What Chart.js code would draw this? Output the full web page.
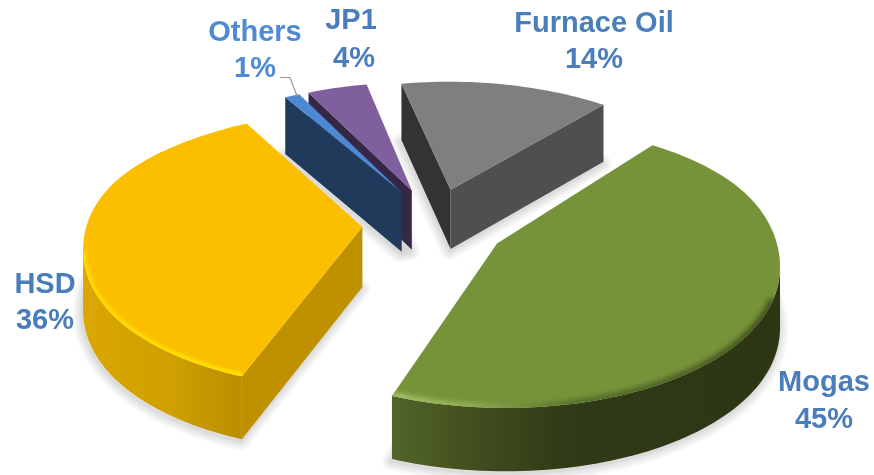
<!DOCTYPE html>
<html>
<head>
<meta charset="utf-8">
<style>html,body{margin:0;background:#fff}canvas{display:block}</style>
<script src="https://cdn.jsdelivr.net/npm/chart.js@4/dist/chart.umd.js"></script>
</head>
<body>
<canvas id="c" width="874" height="475"></canvas>
<script>
// Fuel mix, share of total in percent
const fuels = ['Mogas', 'HSD', 'Others', 'JP1', 'Furnace Oil'];
const shares = [45, 36, 1, 4, 14];
const firstSliceRotation = 39;

// Tilted-disc projection, relative to the arc element's centre and radius
const VIEW = { dx: -3, dy: -7.5, rx: 1.16, ry: 0.573, persp: 0.12, dish: 7, depth: 60, explode: 0.26 };

const STYLES = {
  'Mogas': { top: '#77933a', wall: [[390, '#52652a'], [470, '#434f1e'], [570, '#2f3a17'], [790, '#2c3615']],
             rim: [[390, '#a9c56e'], [470, '#8fae52'], [570, '#55702a'], [780, '#3f5019']], rimRange: [20, 112], rimWidth: 8, rimBlur: 2.5 },
  'HSD': { top: '#fbbf00', startWall: '#bf9100', wall: [[83, '#dba600'], [170, '#cfa000'], [243, '#bb8d00']],
           rim: [[83, '#ffd800'], [243, '#ffe400']], rimRange: [110, 172], rimWidth: 7, rimBlur: 1.5 },
  'Others': { top: '#4d88d2', startWall: '#1f3a5b', wall: [[0, '#1f3a5b']] },
  'JP1': { top: '#7f5f9e', startWall: '#352745', wall: [[0, '#352745']] },
  'Furnace Oil': { top: '#7f7f7f', startWall: '#333333', endWall: '#4f4f4f', wall: [[0, '#4f4f4f']] }
};

const LABEL_FONT = 'bold 29px "Liberation Sans", Arial, sans-serif';
const LABELS = {
  'Mogas': { x: 824, y: 383, color: '#4a7ebb', gap: 37 },
  'HSD': { x: 45, y: 285, color: '#4a7ebb', gap: 36 },
  'Others': { x: 255, y: 33, color: '#4f8ad4', gap: 36 },
  'JP1': { x: 351, y: 21, color: '#4a7ebb', gap: 38 },
  'Furnace Oil': { x: 594, y: 24, color: '#4a7ebb', gap: 36 }
};
const othersLeader = [[280, 77.5], [290, 77.5], [297, 96]];
const SHADOW_WIDTHS = [18, 14, 10, 6, 3];

function gradientOf(ctx, stops) {
  if (stops.length === 1) return stops[0][1];
  const g = ctx.createLinearGradient(stops[0][0], 0, stops[stops.length - 1][0], 0);
  const span = stops[stops.length - 1][0] - stops[0][0];
  stops.forEach(([x, c]) => g.addColorStop((x - stops[0][0]) / span, c));
  return g;
}

class Arc3D extends Chart.ArcElement {
  static id = 'arc3d';

  project(u, v, lift) {
    const r = this.outerRadius, s = 1 / (1 - VIEW.persp * v);
    return {
      x: this.x + VIEW.dx + u * r * VIEW.rx * s,
      y: this.y + VIEW.dy + v * r * VIEW.ry * s
         - VIEW.dish * Math.exp(-Math.pow(v + 0.2, 2) / 0.25)
         + lift * VIEW.depth * (1 + 0.05 * v)
    };
  }

  rimPoint(deg, lift) {
    const mid = (this.startAngle + this.endAngle) / 2, a = deg * Math.PI / 180;
    return this.project(VIEW.explode * Math.cos(mid) + Math.cos(a), VIEW.explode * Math.sin(mid) + Math.sin(a), lift);
  }

  apex(lift) {
    const mid = (this.startAngle + this.endAngle) / 2;
    return this.project(VIEW.explode * Math.cos(mid), VIEW.explode * Math.sin(mid), lift);
  }

  arcDegrees() {
    const from = this.startAngle * 180 / Math.PI, to = this.endAngle * 180 / Math.PI;
    const list = [];
    const steps = Math.max(4, Math.ceil((to - from) / 1.5));
    for (let i = 0; i <= steps; i++) list.push(from + (to - from) * i / steps);
    return list;
  }

  tracePoly(ctx, pts) {
    ctx.beginPath();
    pts.forEach((p, i) => (i ? ctx.lineTo(p.x, p.y) : ctx.moveTo(p.x, p.y)));
    ctx.closePath();
  }

  fillPoly(ctx, pts, fill) {
    this.tracePoly(ctx, pts);
    ctx.fillStyle = fill;
    ctx.fill();
  }

  drawCut(ctx, a, b, fill) {
    if (b.x >= a.x) return;
    this.fillPoly(ctx, [a, b, b.low, a.low], fill);
  }

  draw(ctx) {
    const st = this.sliceStyle;
    const degs = this.arcDegrees();
    const top = degs.map(d => this.rimPoint(d, 0));
    const low = degs.map(d => this.rimPoint(d, 1));
    const apexTop = this.apex(0), apexLow = this.apex(1);

    ctx.save();
    // soft contact shadow, built up from widening translucent outlines
    ctx.save();
    ctx.lineJoin = 'round';
    ctx.strokeStyle = 'rgba(0,0,0,0.032)';
    this.tracePoly(ctx, [apexLow, ...low].map(p => ({ x: p.x - 1, y: p.y + 2 })));
    SHADOW_WIDTHS.forEach(w => {
      ctx.lineWidth = w;
      ctx.stroke();
    });
    ctx.restore();

    // straight cut faces
    const A = { x: apexTop.x, y: apexTop.y, low: apexLow };
    const S = { x: top[0].x, y: top[0].y, low: low[0] };
    const E = { x: top[top.length - 1].x, y: top[top.length - 1].y, low: low[low.length - 1] };
    if (st.startWall) this.drawCut(ctx, A, S, st.startWall);
    if (st.endWall) this.drawCut(ctx, E, A, st.endWall);

    // outer curved wall, only the stretch that faces the viewer
    const visible = [];
    for (let i = 0; i < top.length - 1; i++) {
      if (top[i + 1].x < top[i].x) {
        if (!visible.length) visible.push(i);
        visible.push(i + 1);
      }
    }
    if (visible.length > 1) {
      const upper = visible.map(i => top[i]);
      const lower = visible.map(i => low[i]).reverse();
      this.fillPoly(ctx, [...upper, ...lower], gradientOf(ctx, st.wall));
    }

    // upper face
    const face = [apexTop, ...top];
    this.fillPoly(ctx, face, this.options.backgroundColor);

    // bevel along the front rim
    if (st.rim) {
      ctx.save();
      this.tracePoly(ctx, face);
      ctx.clip();
      ctx.filter = 'blur(' + st.rimBlur + 'px)';
      ctx.strokeStyle = gradientOf(ctx, st.rim);
      ctx.lineWidth = st.rimWidth;
      ctx.beginPath();
      let started = false;
      degs.forEach(d => {
        if (d < st.rimRange[0] || d > st.rimRange[1]) return;
        const p = this.rimPoint(d, 0);
        if (started) ctx.lineTo(p.x, p.y); else { ctx.moveTo(p.x, p.y); started = true; }
      });
      ctx.stroke();
      ctx.restore();
    }
    ctx.restore();
  }
}

class Pie3DController extends Chart.PieController {
  static id = 'pie3d';
  static defaults = { dataElementType: 'arc3d' };

  draw() {
    const meta = this._cachedMeta, ctx = this.chart.ctx;
    const labels = this.chart.data.labels;
    const depthOf = el => Math.sin((el.startAngle + el.endAngle) / 2);
    const order = meta.data.map((el, i) => i).sort((a, b) => depthOf(meta.data[a]) - depthOf(meta.data[b]));
    order.forEach(i => {
      meta.data[i].sliceStyle = STYLES[labels[i]];
      meta.data[i].draw(ctx);
    });
  }
}

Chart.register(Arc3D, Pie3DController);

const sliceLabels = {
  id: 'sliceLabels',
  afterDraw(chart) {
    const ctx = chart.ctx;
    ctx.save();
    ctx.strokeStyle = '#999999';
    ctx.lineWidth = 1.2;
    ctx.beginPath();
    othersLeader.forEach(([x, y], i) => (i ? ctx.lineTo(x, y) : ctx.moveTo(x, y)));
    ctx.stroke();
    ctx.font = LABEL_FONT;
    ctx.textAlign = 'center';
    ctx.textBaseline = 'middle';
    fuels.forEach((name, i) => {
      const l = LABELS[name];
      ctx.fillStyle = l.color;
      ctx.fillText(name, l.x, l.y);
      ctx.fillText(shares[i] + '%', l.x + (name === 'JP1' ? 3 : 0), l.y + l.gap);
    });
    ctx.restore();
  }
};

new Chart(document.getElementById('c'), {
  type: 'pie3d',
  data: {
    labels: fuels,
    datasets: [{
      data: shares,
      rotation: firstSliceRotation,
      backgroundColor: fuels.map(n => STYLES[n].top),
      borderWidth: 0
    }]
  },
  options: {
    responsive: false,
    animation: false,
    events: [],
    layout: { padding: 0 },
    plugins: { legend: { display: false }, tooltip: { enabled: false } }
  },
  plugins: [sliceLabels]
});
</script>
</body>
</html>
